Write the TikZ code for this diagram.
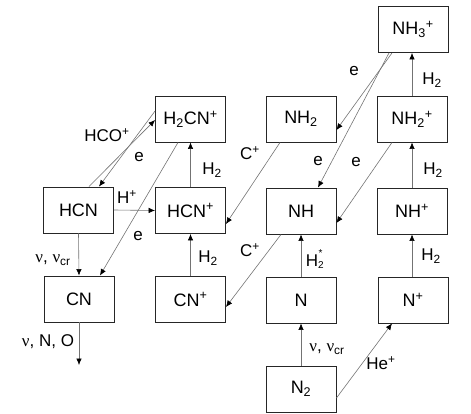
\documentclass[tikz,border=0pt]{standalone}
\usepackage{fontspec}
\setmainfont{Liberation Sans}
\newfontfamily\grk{Liberation Serif}
\usetikzlibrary{arrows.meta}
\newcommand{\nuu}{{\grk ν}}
\begin{document}
\begin{tikzpicture}[x=1pt,y=-1pt,
  box/.style={draw=black!85,line width=0.9pt,minimum width=70pt,minimum height=46pt,inner sep=0pt,font=\fontsize{18}{20}\selectfont},
  lab/.style={inner sep=0pt,font=\fontsize{17}{19}\selectfont},
  conn/.style={draw=black!55,line width=0.6pt,-{Latex[color=black,length=6.5pt,width=5.5pt]}}]
\useasboundingbox (0,0) rectangle (471,414);
% boxes
\node[box] (HCN) at (78.5,210) {HCN};
\node[box] (H2CN) at (190.5,119) {H\textsubscript{2}CN\textsuperscript{+}};
\node[box] (HCNp) at (190.5,210.5) {HCN\textsuperscript{+}};
\node[box] (CN) at (79,299) {CN};
\node[box] (CNp) at (190.5,299.5) {CN\textsuperscript{+}};
\node[box] (NH3) at (413,29.5) {NH\textsubscript{3}\textsuperscript{+}};
\node[box] (NH2) at (301,119) {NH\textsubscript{2}};
\node[box] (NH2p) at (412,119) {NH\textsubscript{2}\textsuperscript{+}};
\node[box] (NH) at (301,211) {NH};
\node[box] (NHp) at (412,211) {NH\textsuperscript{+}};
\node[box] (N) at (301,300) {N};
\node[box] (Np) at (413,300) {N\textsuperscript{+}};
\node[box] (N2) at (301,389) {N\textsubscript{2}};
\coordinate (CNout) at (79,365);
% connectors
\draw[conn] ([xshift=10.5]HCN.north) -- ([yshift=-1]H2CN.west);
\draw[conn] ([yshift=8]H2CN.west) -- ([xshift=20.5]HCN.north);
\draw[conn] ([xshift=-12.5]H2CN.south) -- ([xshift=21]CN.north);
\draw[conn] (HCN.east) -- (HCNp.west);
\draw[conn] (HCN.south) -- (CN.north);
\draw[conn] (CN.south) -- (CNout);
\draw[conn] (HCNp.north) -- (H2CN.south);
\draw[conn] (CNp.north) -- (HCNp.south);
\draw[conn] ([xshift=-21]NH2.south) -- ([yshift=-13.5]HCNp.east);
\draw[conn] ([xshift=-20]NH.south) -- ([yshift=-7.5]CNp.east);
\draw[conn] ([xshift=-21]NH3.south) -- ([yshift=-11]NH2.east);
\draw[conn] ([xshift=-24]NH3.south) -- ([xshift=17]NH.north);
\draw[conn] ([xshift=-20]NH2p.south) -- ([yshift=-12]NH.east);
\draw[conn] (NH2p.north) -- (NH3.south -| NH2p.north);
\draw[conn] (NHp.north) -- (NH2p.south);
\draw[conn] (Np.north -| NHp.south) -- (NHp.south);
\draw[conn] (N.north) -- (NH.south);
\draw[conn] (N2.north) -- (N.south);
\draw[conn] ([yshift=-9]N2.east) -- ([xshift=-21]Np.south);
% labels
\node[lab] (l1) at (107,135) {HCO\textsuperscript{+}};
\node[lab] (l2) at (139,157) {e};
\node[lab] (l3) at (127,197) {H\textsuperscript{+}};
\node[lab] (l4) at (138,236) {e};
\node[lab] (l5) at (212,170) {H\textsubscript{2}};
\node[lab] (l6) at (250,153) {C\textsuperscript{+}};
\node[lab] (l7) at (208,258) {H\textsubscript{2}};
\node[lab] (l8) at (250,250) {C\textsuperscript{+}};
\node[lab] (l9) at (312,261) {H};
\node[inner sep=0pt,font=\fontsize{10}{10}\selectfont,anchor=base west] (l9b) at (318,268) {2};
\node[inner sep=0pt,font=\fontsize{10}{10}\selectfont,anchor=base west] (l9c) at (318.5,256) {*};
\node[lab] (l10) at (327,349) {\nuu,\ \nuu\textsubscript{cr}};
\node[lab] (l11) at (381,363) {He\textsuperscript{+}};
\node[lab] (l12) at (431,256) {H\textsubscript{2}};
\node[lab] (l13) at (433,170) {H\textsubscript{2}};
\node[lab] (l14) at (356,162) {e};
\node[lab] (l15) at (318,161) {e};
\node[lab] (l16) at (354,71) {e};
\node[lab] (l17) at (432,80) {H\textsubscript{2}};
\node[lab] (l18) at (53,260) {\nuu,\ \nuu\textsubscript{cr}};
\node[lab] (l19) at (48,342) {\nuu, N, O};
\end{tikzpicture}
\end{document}
